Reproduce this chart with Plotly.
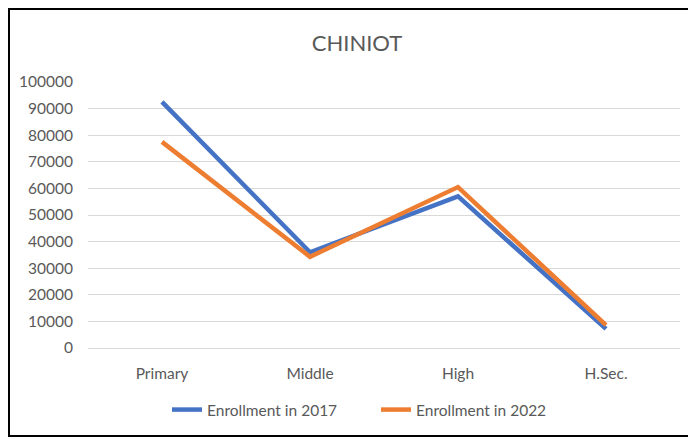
import plotly.graph_objects as go

categories = ["Primary", "Middle", "High", "H.Sec."]
enroll_2017 = [92500, 36000, 57000, 7200]
enroll_2022 = [77500, 34300, 60500, 8600]
y_ticks = list(range(0, 100001, 10000))

fig = go.Figure()
fig.add_trace(go.Scatter(x=categories, y=enroll_2017, mode="lines", name="Enrollment in 2017",
                         line=dict(color="#4472C4", width=4.5)))
fig.add_trace(go.Scatter(x=categories, y=enroll_2022, mode="lines", name="Enrollment in 2022",
                         line=dict(color="#ED7D31", width=4.5)))

# page body has an 8px offset; figure coords = page coords - 8
L, T, W, H = 80, 74, 592, 266
font_family = "Lato, 'Open Sans', sans-serif"
fig.update_layout(
    width=696, height=439,
    margin=dict(l=L, r=696 - L - W, t=T, b=439 - T - H),
    paper_bgcolor="white", plot_bgcolor="white",
    font=dict(family=font_family, color="#595959", size=15.5),
    title=dict(text="CHINIOT", x=(357 - 8) / 696, xanchor="center", y=1 - 35 / 439, yanchor="middle",
               font=dict(size=22, color="#595959", family=font_family)),
    showlegend=True,
    legend=dict(orientation="h", x=(167 - 8 - L) / W, xanchor="left", y=(T + H - 402) / H, yanchor="middle",
                entrywidth=164, entrywidthmode="pixels",
                font=dict(size=15.5, color="#595959")),
    xaxis=dict(showgrid=False, showline=False, ticks="", range=[-0.5, 3.5],
               ticklabelstandoff=14, tickfont=dict(size=15.5)),
    yaxis=dict(range=[0, 100000], tickvals=y_ticks, ticktext=[str(v) for v in y_ticks],
               showgrid=True, gridcolor="#D9D9D9", gridwidth=1,
               zeroline=True, zerolinecolor="#D9D9D9", zerolinewidth=1,
               showline=False, ticks="", ticklabelstandoff=14, tickfont=dict(size=15.5)),
    shapes=[dict(type="rect", xref="paper", yref="paper",
                 x0=(1 - L) / W, x1=(683 - L) / W, y0=(T + H - 428) / H, y1=(T + H - 1) / H,
                 line=dict(color="black", width=2), fillcolor="rgba(0,0,0,0)", layer="below")],
)

fig.write_html("out.html")
